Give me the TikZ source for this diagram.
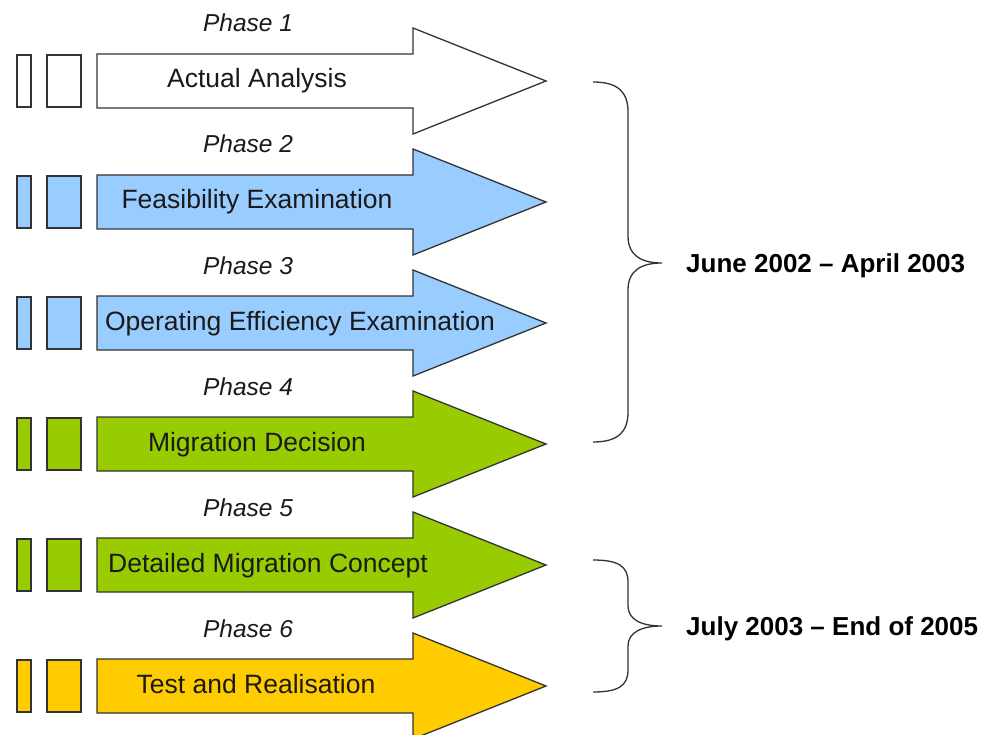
\documentclass[tikz,border=0pt]{standalone}
\usepackage{fontspec}
\setmainfont{Liberation Sans}
\definecolor{pwhite}{HTML}{FFFFFF}
\definecolor{pblue}{HTML}{99CCFF}
\definecolor{pgreen}{HTML}{99CC00}
\definecolor{pyellow}{HTML}{FFCC00}
\definecolor{outline}{HTML}{333333}
\definecolor{txtcol}{HTML}{1A1A1A}
\begin{document}
\begin{tikzpicture}[x=1pt,y=-1pt,
  shapeline/.style={draw=outline, line width=1.3pt, line join=miter},
  phaselabel/.style={font=\fontsize{24.5}{28}\selectfont\itshape, text=txtcol, inner sep=0, anchor=base},
  arrowtext/.style={font=\fontsize{26.5}{30}\selectfont, inner sep=0, text=txtcol, anchor=base},
  datelabel/.style={font=\fontsize{26}{30}\selectfont\bfseries, anchor=base west, inner sep=0, text=black},
  bracestyle/.style={draw=outline, line width=1.3pt}]
\useasboundingbox (0,0) rectangle (984,735);
\fill[white] (0,0) rectangle (984,735);
\foreach \i/\c/\col/\tx/\txt in {
  1/81/pwhite/257/Actual Analysis,
  2/202/pblue/257/Feasibility Examination,
  3/323/pblue/300/Operating Efficiency Examination,
  4/444/pgreen/257/Migration Decision,
  5/565/pgreen/268/Detailed Migration Concept,
  6/686/pyellow/256/Test and Realisation}{
  \draw[shapeline, fill=\col] (17,\c-26) rectangle (31,\c+26);
  \draw[shapeline, fill=\col] (47,\c-26) rectangle (81,\c+26);
  \draw[shapeline, fill=\col] (97,\c-27) -- (413,\c-27) -- (413,\c-53) -- (546,\c)
     -- (413,\c+53) -- (413,\c+27) -- (97,\c+27) -- cycle;
  \node[arrowtext] (t\i) at (\tx,\c+7) {\txt};
  \node[phaselabel] (p\i) at (248,\c-49) {Phase \i};
}
% braces
\draw[bracestyle] (593,82) .. controls (618,82) and (628,92) .. (628,112)
  -- (628,236) .. controls (628,256) and (642,263) .. (662,263)
  .. controls (642,263) and (628,270) .. (628,290)
  -- (628,412) .. controls (628,432) and (618,442) .. (593,442);
\draw[bracestyle] (593,560) .. controls (618,560) and (628,566) .. (628,582)
  -- (628,606) .. controls (628,620) and (642,626) .. (662,626)
  .. controls (642,626) and (628,632) .. (628,646)
  -- (628,670) .. controls (628,686) and (618,692) .. (593,692);
\coordinate (b1) at (662,263);
\coordinate (b2) at (662,626);
\node[datelabel] (d1) at (686,272) {June 2002 – April 2003};
\node[datelabel] (d2) at (686,635) {July 2003 – End of 2005};
\end{tikzpicture}
\end{document}
